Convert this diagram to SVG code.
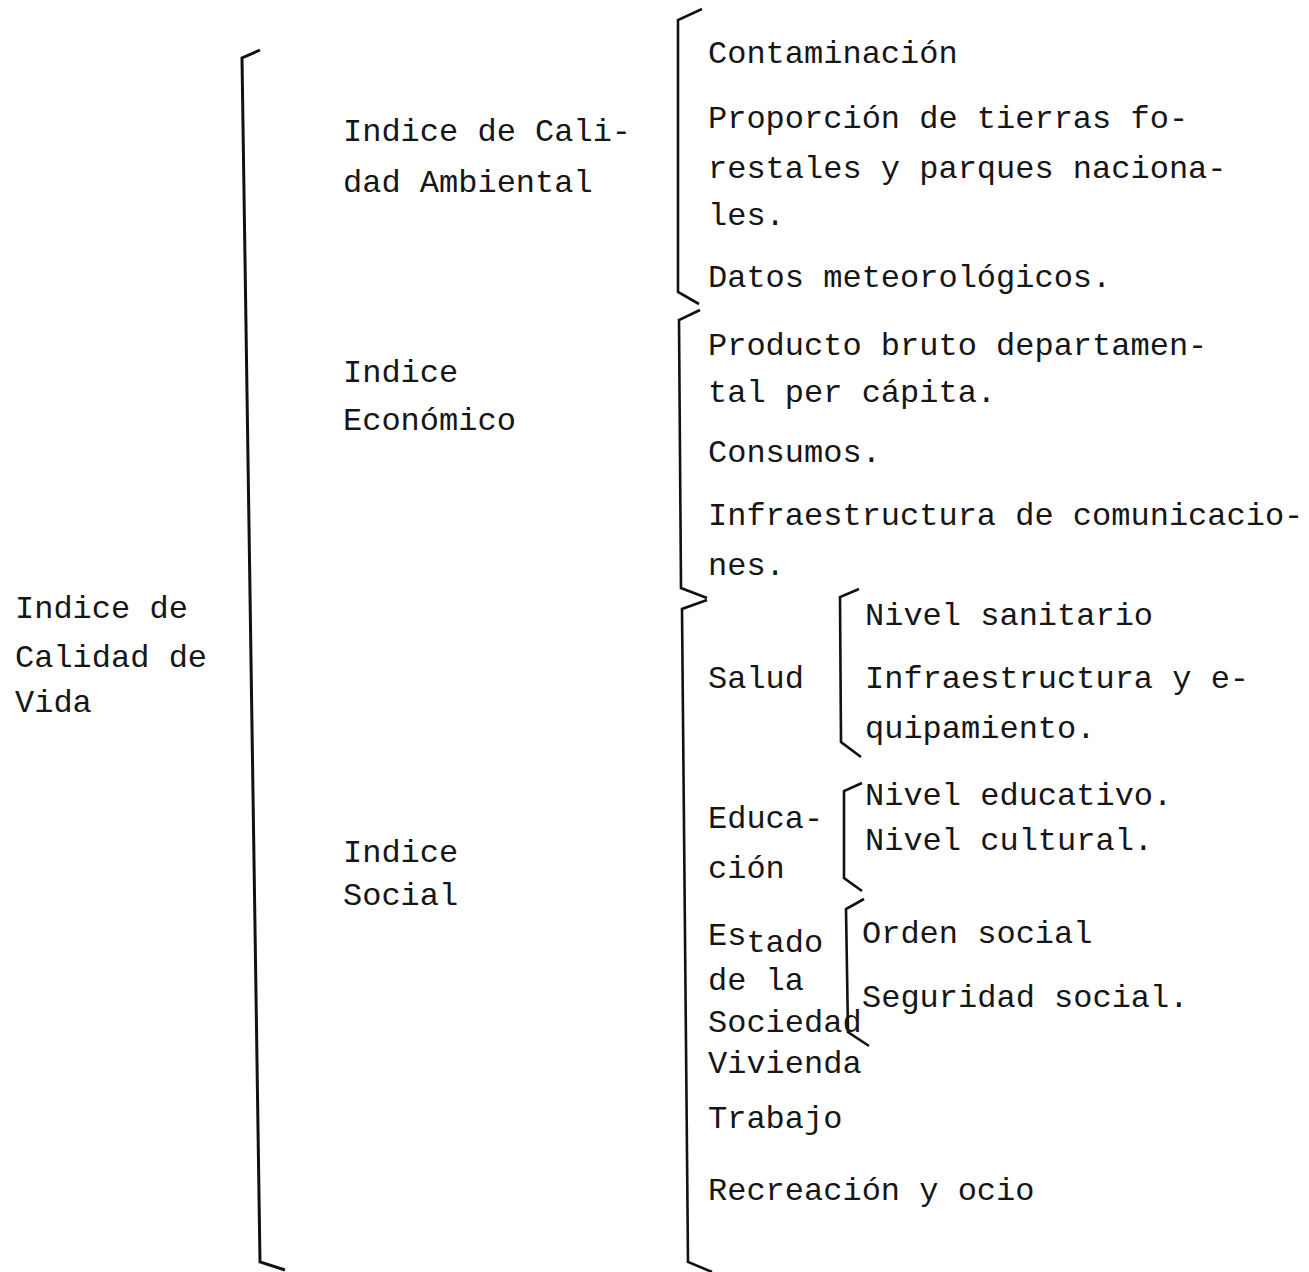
<svg xmlns="http://www.w3.org/2000/svg" width="1309" height="1272" viewBox="0 0 1309 1272">
<style>
text{font-family:"Liberation Mono","DejaVu Sans Mono",monospace;font-size:32px;fill:#161616}
.br{fill:none;stroke:#111;stroke-width:3;stroke-linejoin:miter}
.bs{fill:none;stroke:#111;stroke-width:2.6}
</style>
<rect width="1309" height="1272" fill="#fff"/>
<g id="connectors">
<path class="br" d="M260,50 L242,58 L260,1262 L285,1270"/>
<path class="bs" d="M702,9 L678,20 L678,292 L699,304"/>
<path class="bs" d="M700,310 L679,320 L681,588 L707,598"/>
<path class="bs" d="M707,600 L682,609 L688,1262 L712,1272"/>
<path class="bs" d="M859,589 L840,597 L841,742 L861,757"/>
<path class="bs" d="M862,783 L844,791 L844,878 L862,891"/>
<path class="bs" d="M864,899 L846,909 L848,1032 L869,1046"/>
</g>
<g id="root"><text x="15" y="618">Indice de</text><text x="15" y="667">Calidad de</text><text x="15" y="712">Vida</text></g>
<g id="ambiental"><text x="343" y="141">Indice de Cali-</text><text x="343" y="192">dad Ambiental</text></g>
<g id="economico"><text x="343" y="382">Indice</text><text x="343" y="430">Económico</text></g>
<g id="social"><text x="343" y="862">Indice</text><text x="343" y="905">Social</text></g>
<g id="contaminacion"><text x="708" y="63">Contaminación</text></g>
<g id="tierras"><text x="708" y="128">Proporción de tierras fo-</text><text x="708" y="178">restales y parques naciona-</text><text x="708" y="225">les.</text></g>
<g id="meteo"><text x="708" y="287">Datos meteorológicos.</text></g>
<g id="producto"><text x="708" y="355">Producto bruto departamen-</text><text x="708" y="402">tal per cápita.</text></g>
<g id="consumos"><text x="708" y="462">Consumos.</text></g>
<g id="infra-com"><text x="708" y="525">Infraestructura de comunicacio-</text><text x="708" y="575">nes.</text></g>
<g id="salud"><text x="708" y="688">Salud</text></g>
<g id="nivel-sanitario"><text x="865" y="625">Nivel sanitario</text></g>
<g id="infra-equip"><text x="865" y="688">Infraestructura y e-</text><text x="865" y="738">quipamiento.</text></g>
<g id="educacion"><text x="708" y="828">Educa-</text><text x="708" y="878">ción</text></g>
<g id="nivel-educativo"><text x="865" y="805">Nivel educativo.</text></g>
<g id="nivel-cultural"><text x="865" y="850">Nivel cultural.</text></g>
<g id="estado"><text x="708" y="945">Es<tspan dy="7">tado</tspan></text><text x="708" y="990">de la</text><text x="708" y="1032">Sociedad</text></g>
<g id="orden"><text x="862" y="943">Orden social</text></g>
<g id="seguridad"><text x="862" y="1007">Seguridad social.</text></g>
<g id="vivienda"><text x="708" y="1073">Vivienda</text></g>
<g id="trabajo"><text x="708" y="1128">Trabajo</text></g>
<g id="recreacion"><text x="708" y="1200">Recreación y ocio</text></g>
</svg>
